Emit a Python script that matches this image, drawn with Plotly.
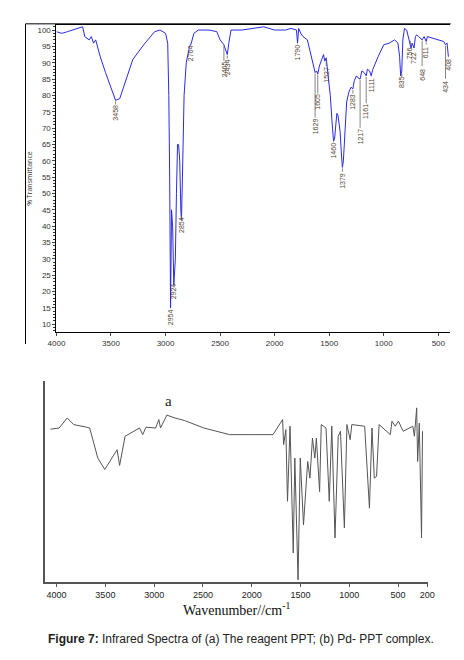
import plotly.graph_objects as go

# Top spectrum (a) reagent PPT: wavenumber, %T
wn_a = [4000,3950,3900,3850,3800,3760,3740,3700,3680,3660,3640,3600,3550,3500,3458,3420,3380,3330,3300,3200,3100,3050,3000,2980,2970,2962,2954,2945,2935,2924,2910,2900,2890,2880,2870,2860,2854,2845,2830,2810,2780,2764,2740,2700,2600,2530,2500,2465,2445,2434,2420,2400,2300,2200,2100,2000,1900,1850,1800,1790,1780,1760,1740,1700,1680,1650,1629,1615,1605,1590,1570,1552,1540,1527,1510,1490,1470,1460,1450,1440,1430,1420,1410,1400,1390,1379,1370,1360,1340,1320,1300,1283,1270,1250,1240,1217,1200,1180,1161,1150,1130,1115,1100,1050,1000,950,900,870,855,845,835,825,810,790,770,750,740,722,710,700,680,660,648,630,611,600,550,500,450,434,420,408]
t_a = [99.5,99,99.5,100,100.5,101,98,97,98,96,97,92,87,82,78.5,79,83,88,91,95.5,99.5,100,99,96,80,55,15,45,40,22,30,50,65,65,60,45,42,55,80,90,95,96,99,100,100,99.5,97,95.5,93.5,92.5,96,100,100,100.5,101,100,100,100.5,100,96,100.5,99,98,97,94,90,87,87.5,86.5,89,91,92.5,90.5,91.5,86,80,70,66,67,72,74.5,74,71,69,63,58,60,67,78,81,82.5,82,84.5,86,85.5,85,87.5,87,86,88,87.5,86,88,92,95.5,96,97,96,92,86,87.5,97,100.5,100,97,94.5,96,94.5,98,98.5,98,97.5,97,98,96.5,98,97.5,97,96.5,95.5,96,92]

# Peak labels (a)
peak_wn = [3458,2954,2924,2854,2764,2465,2434,1790,1629,1605,1527,1460,1379,1283,1217,1161,1111,835,756,722,648,611,434,408]
peak_t = [78.5,15,22,42,96,95.5,92.5,96,87,86.5,91.5,66,58,82,85,86,86,86,97,94.5,97,96.5,95.5,92]
label_t = [74.6,12,20,40.5,93,88,88.7,93,70.6,78,86.4,63,54,78,67.5,75,83,84,93,91.5,86.4,93,82.5,89.5]

# Bottom spectrum (b)
wn_b = [4063,3974,3891,3825,3693,3661,3578,3506,3380,3354,3298,3150,3117,3084,2985,2952,2935,2870,2787,2688,2490,2358,2226,2029,1782,1683,1673,1650,1633,1607,1574,1558,1525,1502,1469,1426,1403,1377,1353,1337,1304,1287,1238,1205,1179,1146,1113,1090,1050,1024,991,974,842,793,767,743,720,694,579,562,529,496,447,348,332,309,299,282,259,249]
t_b = [76,76.6,81.6,78.3,77,76.6,61.7,56,65.8,58,72.5,76.6,73.3,77,76.6,80.8,76.6,83,81.6,80.3,76.6,75,73.3,73.3,73.3,80.8,68.3,75.8,40.2,77.5,14.5,61.7,1.2,61.7,28.5,60,51.7,71.6,61.7,71.6,45,78.3,76.6,40.2,77.5,22,72.5,75,27,78.3,70.8,78.3,77.5,36.8,76.6,51.7,52.6,78.3,73.3,80,77.5,80,75,77.5,72.5,86.6,60,79,22,75]

fig = go.Figure()
fig.add_trace(go.Scatter(x=wn_a, y=t_a, mode="lines", line=dict(color="#2a2ae6", width=1), xaxis="x", yaxis="y", showlegend=False))
lx, ly = [], []
for w, p, l in zip(peak_wn, peak_t, label_t):
    lx += [w, w, None]; ly += [p - 0.3, l + 2.6, None]
fig.add_trace(go.Scatter(x=lx, y=ly, mode="lines", line=dict(color="#666", width=0.8), xaxis="x", yaxis="y", showlegend=False))
for w, l in zip(peak_wn, label_t):
    fig.add_annotation(x=w, y=l, xref="x", yref="y", text=str(w), textangle=-90, showarrow=False,
                       font=dict(size=7, color="#554433", family="Liberation Sans"))
fig.add_trace(go.Scatter(x=wn_b, y=t_b, mode="lines", line=dict(color="#555", width=1), xaxis="x2", yaxis="y2", showlegend=False))

tickf = dict(size=8, color="#333", family="Liberation Sans")
fig.update_layout(
    width=464, height=660, margin=dict(l=0, r=0, t=0, b=0),
    paper_bgcolor="white", plot_bgcolor="white",
    xaxis=dict(domain=[0.088, 0.966], range=[4000, 395], tickvals=[4000,3500,3000,2500,2000,1500,1000,500],
               showgrid=False, zeroline=False, showline=True, linecolor="black", linewidth=1, mirror=True,
               ticks="outside", ticklen=3, tickfont=tickf, anchor="y"),
    yaxis=dict(domain=[0.509, 0.974], range=[7.6, 101.5], tickvals=list(range(10, 101, 5)),
               showgrid=False, zeroline=False, showline=True, linecolor="black", linewidth=1,
               ticks="outside", ticklen=3, tickfont=tickf, anchor="x",
               minor=dict(ticks="outside", ticklen=2, dtick=1, tickcolor="#333"),
               title=dict(text="% Transmittance", font=dict(size=7, color="#333"), standoff=4)),
    xaxis2=dict(domain=[0.0625, 0.918], range=[4119, 190], tickvals=[4000,3500,3000,2500,2000,1500,1000,500,200],
                showgrid=False, zeroline=False, showline=True, linecolor="#555", linewidth=2,
                ticks="outside", ticklen=3, tickcolor="#555", tickfont=dict(size=9, color="#222", family="Liberation Sans"), anchor="y2",
                title=dict(text="Wavenumber//cm<sup>-1</sup>", font=dict(size=14, color="#111", family="Liberation Serif"), standoff=4)),
    yaxis2=dict(domain=[0.130, 0.435], range=[0, 100], showticklabels=False, ticks="",
                showgrid=False, zeroline=False, showline=True, linecolor="#555", linewidth=2, anchor="x2"),
)
fig.add_annotation(x=2852, y=90, xref="x2", yref="y2", text="a", showarrow=False,
                   font=dict(size=15, color="#222", family="Liberation Serif"))
fig.add_annotation(x=0.5, y=1 - 640/660, xref="paper", yref="paper", showarrow=False,
                   text="<b>Figure 7:</b> Infrared Spectra of (a) The reagent PPT; (b) Pd- PPT complex.",
                   font=dict(size=12, color="#222", family="Liberation Sans"))
fig.add_shape(type="line", xref="paper", yref="paper", x0=0.019, x1=0.968, y0=0.976, y1=0.976, line=dict(color="black", width=1))
fig.add_shape(type="line", xref="paper", yref="paper", x0=0.019, x1=0.019, y0=0.976, y1=0.491, line=dict(color="black", width=1))
fig.write_html("out.html")
